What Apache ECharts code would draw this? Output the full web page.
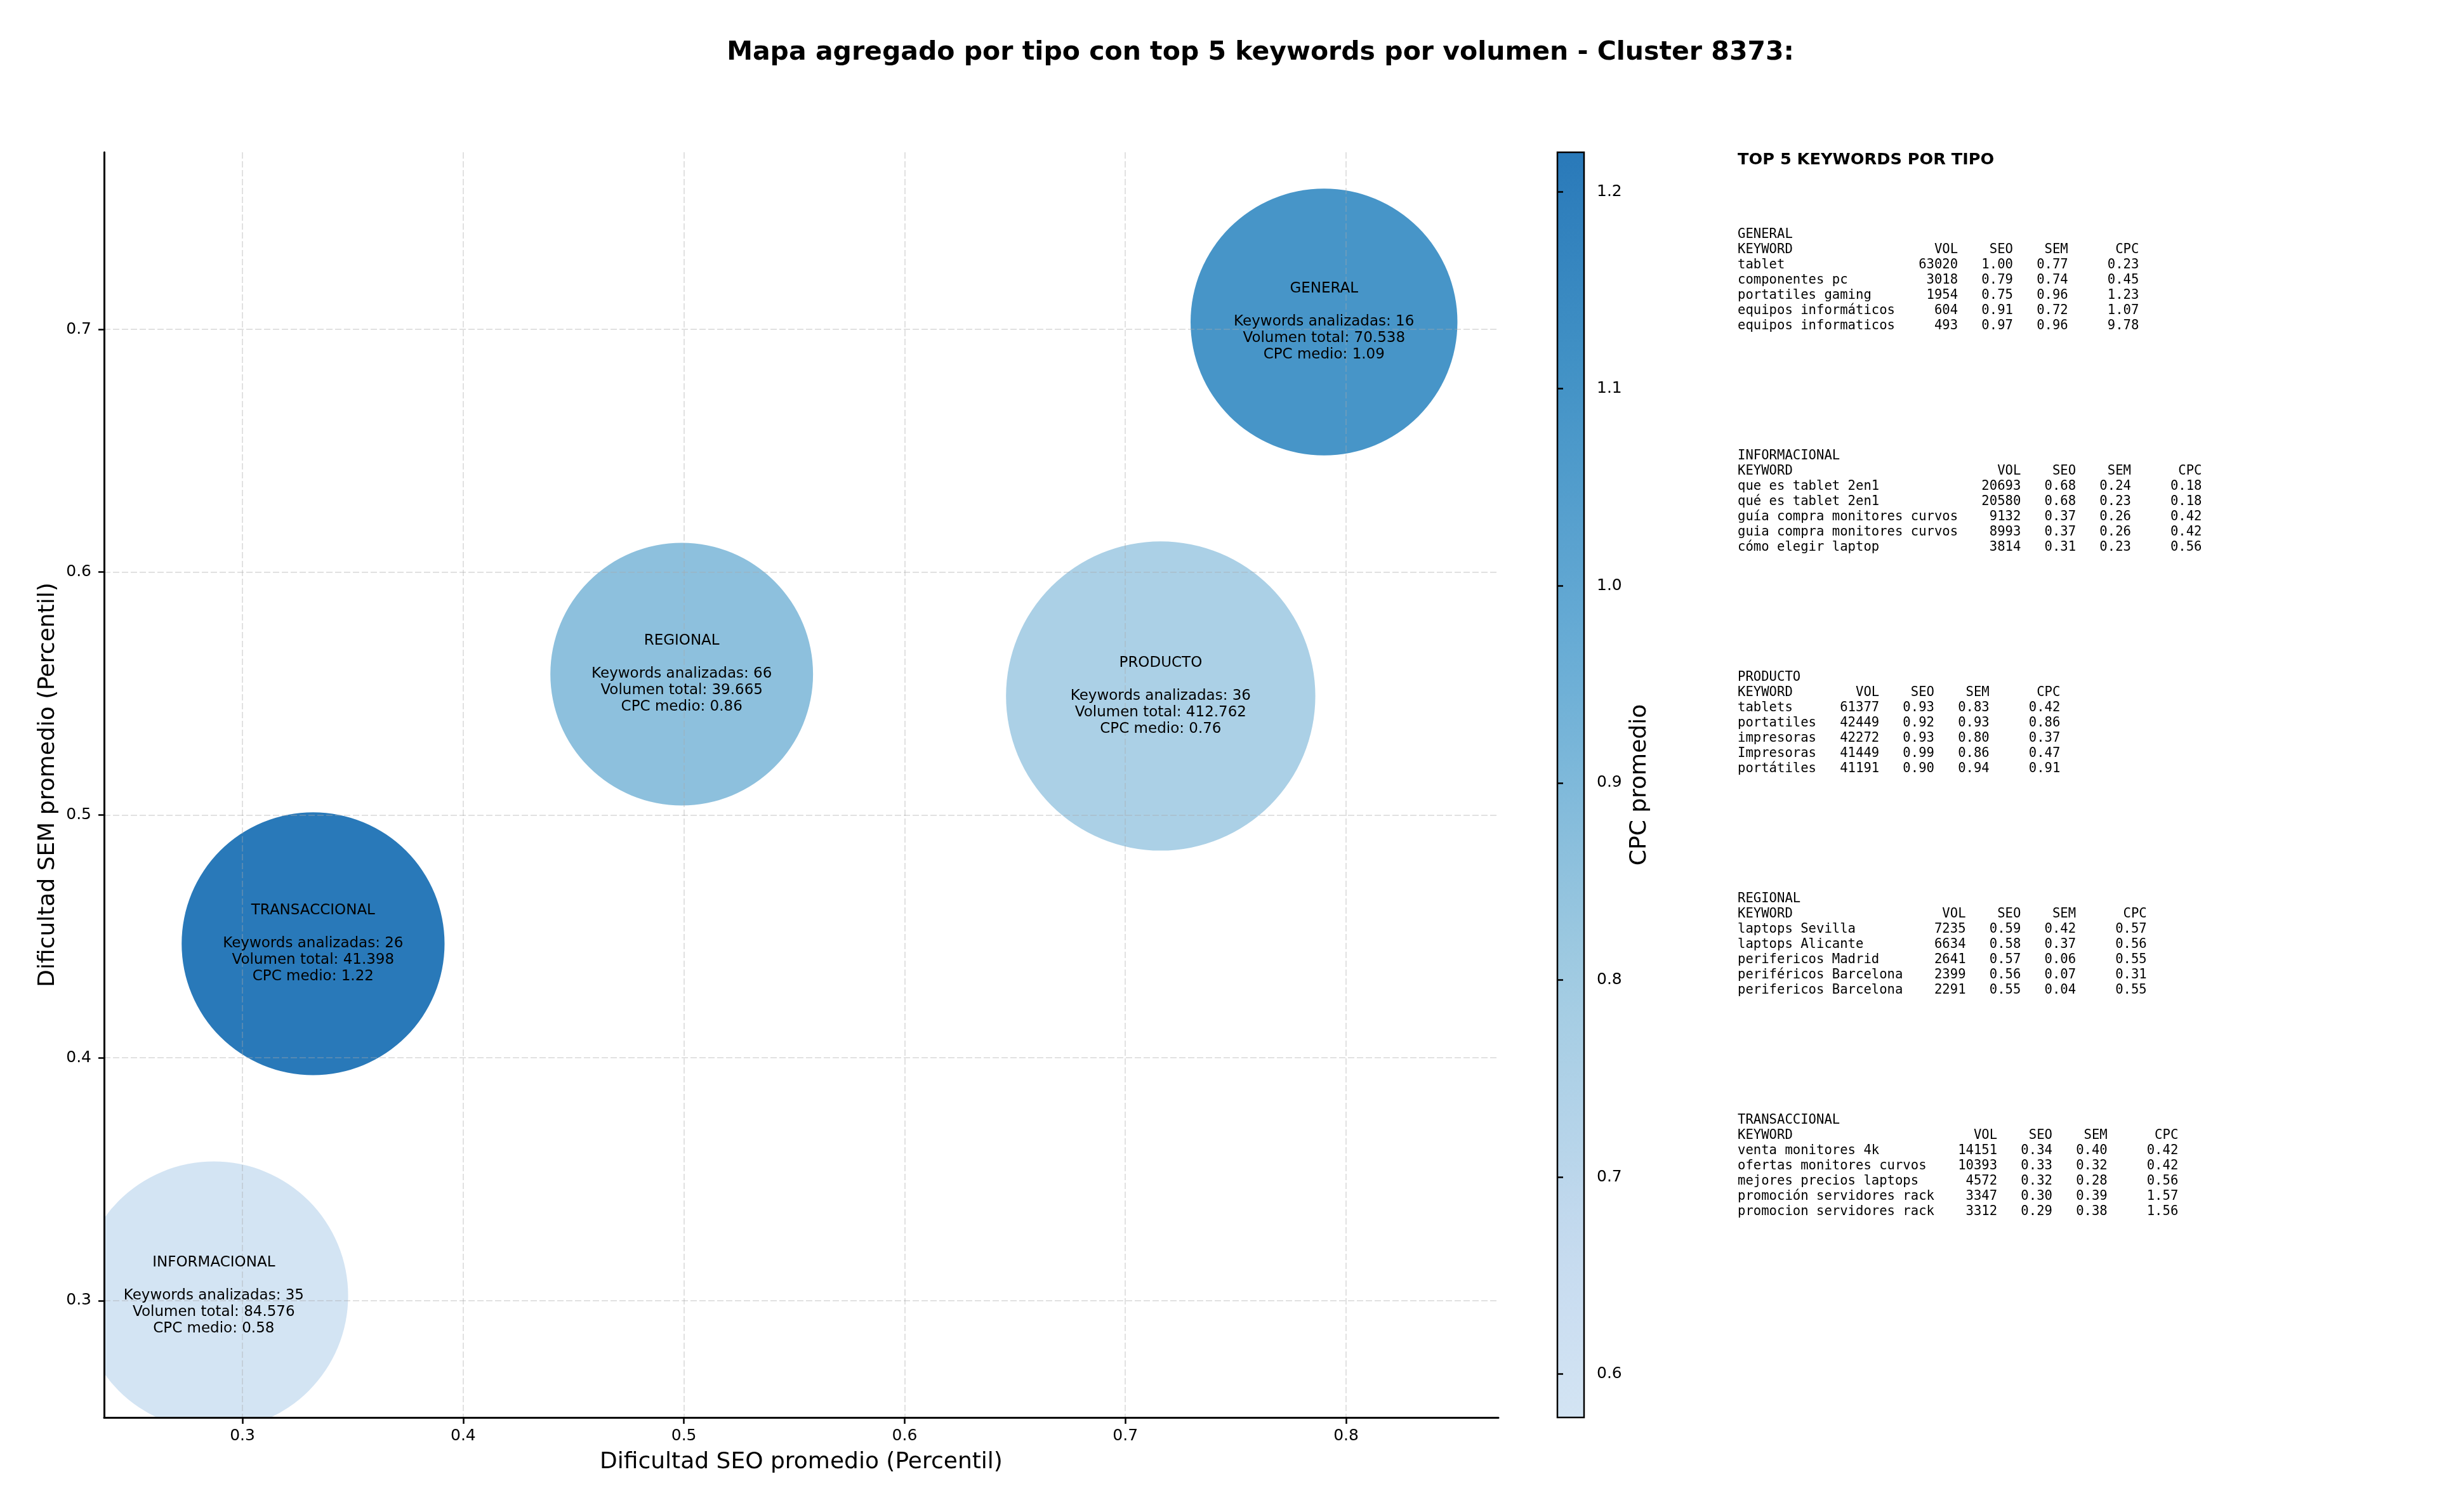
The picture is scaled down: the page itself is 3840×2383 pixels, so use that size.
<!DOCTYPE html>
<html><head><meta charset="utf-8">
<script src="https://cdn.jsdelivr.net/npm/echarts@6/dist/echarts.min.js"></script>
<style>html,body{margin:0;padding:0;background:#fff}#c{width:3840px;height:2383px}</style>
</head><body><div id="c"></div>
<script>
// ---------- DATA ----------
const tipos = ['GENERAL', 'INFORMACIONAL', 'PRODUCTO', 'REGIONAL', 'TRANSACCIONAL'];
const seoProm = [0.790, 0.287, 0.716, 0.499, 0.332];
const semProm = [0.703, 0.302, 0.549, 0.558, 0.447];
const cpcMedio = [1.09, 0.578, 0.76, 0.86, 1.22];
const numKeywords = [16, 35, 36, 66, 26];
const volTotal = [70538, 84576, 412762, 39665, 41398];

const xTicks = [0.3, 0.4, 0.5, 0.6, 0.7, 0.8];
const yTicks = [0.3, 0.4, 0.5, 0.6, 0.7];
const cbTicks = [0.6, 0.7, 0.8, 0.9, 1.0, 1.1, 1.2];

const topGeneral = [
  ['tablet', 63020, 1.00, 0.77, 0.23],
  ['componentes pc', 3018, 0.79, 0.74, 0.45],
  ['portatiles gaming', 1954, 0.75, 0.96, 1.23],
  ['equipos informáticos', 604, 0.91, 0.72, 1.07],
  ['equipos informaticos', 493, 0.97, 0.96, 9.78]
];
const topInformacional = [
  ['que es tablet 2en1', 20693, 0.68, 0.24, 0.18],
  ['qué es tablet 2en1', 20580, 0.68, 0.23, 0.18],
  ['guía compra monitores curvos', 9132, 0.37, 0.26, 0.42],
  ['guia compra monitores curvos', 8993, 0.37, 0.26, 0.42],
  ['cómo elegir laptop', 3814, 0.31, 0.23, 0.56]
];
const topProducto = [
  ['tablets', 61377, 0.93, 0.83, 0.42],
  ['portatiles', 42449, 0.92, 0.93, 0.86],
  ['impresoras', 42272, 0.93, 0.80, 0.37],
  ['Impresoras', 41449, 0.99, 0.86, 0.47],
  ['portátiles', 41191, 0.90, 0.94, 0.91]
];
const topRegional = [
  ['laptops Sevilla', 7235, 0.59, 0.42, 0.57],
  ['laptops Alicante', 6634, 0.58, 0.37, 0.56],
  ['perifericos Madrid', 2641, 0.57, 0.06, 0.55],
  ['periféricos Barcelona', 2399, 0.56, 0.07, 0.31],
  ['perifericos Barcelona', 2291, 0.55, 0.04, 0.55]
];
const topTransaccional = [
  ['venta monitores 4k', 14151, 0.34, 0.40, 0.42],
  ['ofertas monitores curvos', 10393, 0.33, 0.32, 0.42],
  ['mejores precios laptops', 4572, 0.32, 0.28, 0.56],
  ['promoción servidores rack', 3347, 0.30, 0.39, 1.57],
  ['promocion servidores rack', 3312, 0.29, 0.38, 1.56]
];
const panelBlocks = [
  ['GENERAL', topGeneral],
  ['INFORMACIONAL', topInformacional],
  ['PRODUCTO', topProducto],
  ['REGIONAL', topRegional],
  ['TRANSACCIONAL', topTransaccional]
];

// ---------- STYLE HELPERS ----------
const FONT = 'DejaVu Sans';
const MONO = 'DejaVu Sans Mono';
const BLUES = ['#f7fbff','#deebf7','#c6dbef','#9ecae1','#6baed6','#4292c6','#2171b5','#08519c','#08306b'];
function hex(h){ return [1,3,5].map(i => parseInt(h.substr(i,2),16)); }
function blues(t){
  const s = t * 8, i = Math.min(7, Math.floor(s)), f = s - i;
  const a = hex(BLUES[i]), b = hex(BLUES[i+1]);
  const c = a.map((v,k) => Math.round(v + (b[k]-v)*f));
  return 'rgb(' + c.join(',') + ')';
}
const T0 = 0.18, T1 = 0.72, NC = 24;
const cmap = Array.from({length: NC+1}, (_, k) => blues(T0 + (T1-T0)*k/NC));
const cbMin = Math.min(...cpcMedio), cbMax = Math.max(...cpcMedio);

function fmtVol(v){ return String(v).replace(/\B(?=(\d{3})+(?!\d))/g, '.'); }
function bubbleLabel(i){
  return tipos[i] + '\n\nKeywords analizadas: ' + numKeywords[i] +
    '\nVolumen total: ' + fmtVol(volTotal[i]) + '\nCPC medio: ' + cpcMedio[i].toFixed(2);
}
function fmtTable(name, rows){
  const W = Math.max(7, ...rows.map(r => r[0].length));
  const lines = [name, 'KEYWORD'.padEnd(W) + 'VOL'.padStart(8) + 'SEO'.padStart(7) + 'SEM'.padStart(7) + 'CPC'.padStart(9)];
  rows.forEach(r => lines.push(r[0].padEnd(W) + String(r[1]).padStart(8) + r[2].toFixed(2).padStart(7) +
    r[3].toFixed(2).padStart(7) + r[4].toFixed(2).padStart(9)));
  return lines.join('\n');
}
function radiusOf(vol){ return Math.sqrt(41066 + 0.04439 * vol); }

const gridLine = {show: true, lineStyle: {color: 'rgba(170,170,170,0.35)', width: 2, type: [10, 4]}};
const bubbleData = tipos.map((t, i) => [seoProm[i], semProm[i], cpcMedio[i], volTotal[i], numKeywords[i], i]);

const LH = 23.9, BLOCK0 = 370, BLOCKSTEP = 349;
const graphics = [
  {type: 'text', x: 1986, y: 83, style: {text: 'Mapa agregado por tipo con top 5 keywords por volumen - Cluster 8373:',
    fontFamily: FONT, fontWeight: 'bold', fontSize: 41, fill: '#000', align: 'center', verticalAlign: 'middle'}},
  {type: 'text', x: 2738, y: 252, style: {text: 'TOP 5 KEYWORDS POR TIPO',
    fontFamily: FONT, fontWeight: 'bold', fontSize: 25.6, fill: '#000', align: 'left', verticalAlign: 'middle'}}
];
panelBlocks.forEach((b, k) => {
  graphics.push({type: 'text', x: 2738, y: BLOCK0 + k*BLOCKSTEP - LH/2, style: {text: fmtTable(b[0], b[1]),
    fontFamily: MONO, fontSize: 20.6, lineHeight: LH, fill: '#000', align: 'left', verticalAlign: 'top'}});
});

const chart = echarts.init(document.getElementById('c'), null, {renderer: 'canvas'});
chart.setOption({
  animation: false,
  backgroundColor: '#fff',
  grid: [
    {left: 164, right: 1479, top: 240, bottom: 149},
    {left: 2454, width: 42, top: 240, bottom: 149}
  ],
  xAxis: [
    {type: 'value', gridIndex: 0, min: 0.2373, max: 0.869, z: 2,
     name: 'Dificultad SEO promedio (Percentil)', nameLocation: 'middle', nameGap: 53,
     nameTextStyle: {fontFamily: FONT, fontSize: 36, color: '#000'},
     axisLine: {show: true, onZero: false, lineStyle: {color: '#000', width: 3}},
     axisTick: {show: true, customValues: xTicks, length: 10, lineStyle: {color: '#000', width: 2.5}},
     axisLabel: {customValues: xTicks, formatter: v => v.toFixed(1), fontFamily: FONT, fontSize: 25, color: '#000', margin: 17},
     splitLine: gridLine},
    {type: 'value', gridIndex: 1, min: 0, max: 1, show: false}
  ],
  yAxis: [
    {type: 'value', gridIndex: 0, min: 0.2519, max: 0.7729, z: 2,
     name: 'Dificultad SEM promedio (Percentil)', nameLocation: 'middle', nameGap: 70, nameRotate: 90,
     nameTextStyle: {fontFamily: FONT, fontSize: 36, color: '#000'},
     axisLine: {show: true, onZero: false, lineStyle: {color: '#000', width: 3}},
     axisTick: {show: true, customValues: yTicks, length: 9, lineStyle: {color: '#000', width: 2.5}},
     axisLabel: {customValues: yTicks, formatter: v => v.toFixed(1), fontFamily: FONT, fontSize: 25, color: '#000', margin: 20},
     splitLine: gridLine},
    {type: 'value', gridIndex: 1, min: cbMin, max: cbMax, position: 'right', z: 3,
     name: 'CPC promedio', nameLocation: 'middle', nameGap: 70, nameRotate: 90,
     nameTextStyle: {fontFamily: FONT, fontSize: 36, color: '#000'},
     axisLine: {show: false},
     axisTick: {show: true, customValues: cbTicks, length: 9, lineStyle: {color: '#000', width: 2.5}},
     axisLabel: {customValues: cbTicks, formatter: v => v.toFixed(1), fontFamily: FONT, fontSize: 25, color: '#000', margin: 20},
     splitLine: {show: false}}
  ],
  visualMap: [{type: 'continuous', show: false, seriesIndex: 0, dimension: 2, min: cbMin, max: cbMax,
    inRange: {color: cmap}}],
  series: [
    {type: 'custom', name: 'bubbles', xAxisIndex: 0, yAxisIndex: 0, clip: true, z: 1, silent: true,
     data: bubbleData, encode: {x: 0, y: 1},
     renderItem: function(params, api){
       const c = api.coord([api.value(0), api.value(1)]);
       return {type: 'circle', shape: {cx: c[0], cy: c[1], r: radiusOf(api.value(3))},
               style: {fill: api.visual('color')}};
     }},
    {type: 'custom', name: 'labels', xAxisIndex: 0, yAxisIndex: 0, z: 5, silent: true,
     data: bubbleData, encode: {x: 0, y: 1},
     renderItem: function(params, api){
       const c = api.coord([api.value(0), api.value(1)]);
       return {type: 'text', x: c[0], y: c[1], style: {text: bubbleLabel(api.value(5)), fontFamily: FONT,
               fontSize: 23, lineHeight: 26, fill: '#000', align: 'center', verticalAlign: 'middle'}};
     }},
    {type: 'custom', name: 'colorbar', xAxisIndex: 1, yAxisIndex: 1, z: 1, silent: true,
     data: [[0, cbMin, 1, cbMax]], encode: {x: [0, 2], y: [1, 3]},
     renderItem: function(params, api){
       const p0 = api.coord([api.value(0), api.value(1)]);
       const p1 = api.coord([api.value(2), api.value(3)]);
       const stops = cmap.map((col, k) => ({offset: 1 - k/NC, color: col}));
       stops.reverse();
       return {type: 'rect', shape: {x: p0[0], y: p1[1], width: p1[0]-p0[0], height: p0[1]-p1[1]},
               style: {fill: new echarts.graphic.LinearGradient(0, 0, 0, 1, stops), stroke: '#000', lineWidth: 2.5}};
     }}
  ],
  graphic: graphics
});
</script></body></html>
